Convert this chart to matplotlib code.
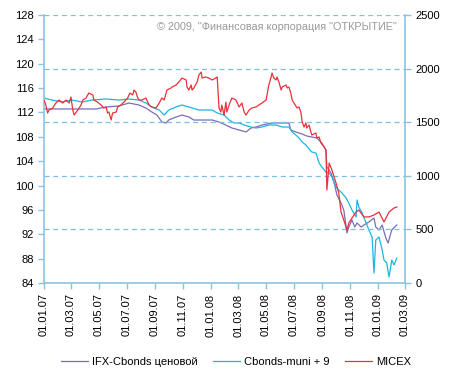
import pandas as pd
import matplotlib
matplotlib.use("Agg")
import matplotlib.pyplot as plt
import matplotlib.dates as mdates
import numpy as np

plt.rcParams['font.family'] = ['Liberation Sans', 'DejaVu Sans']

# days counted from 01.01.2007
start = pd.Timestamp("2007-01-01")

micex_days = [0, 4, 8, 11, 19, 26, 33, 41, 48, 55, 59, 63, 66, 74, 81, 85, 92, 98, 107, 109,
              117, 125, 131, 136, 139, 142, 147, 150, 158, 161, 168, 175, 183, 188, 194, 197,
              201, 205, 208, 214, 223, 230, 236, 245, 252, 258, 263, 269, 278, 280, 289, 295,
              302, 311, 313, 317, 322, 324, 328, 335, 339, 344, 346, 354, 361, 368, 376, 379,
              381, 383, 387, 389, 394, 398, 400, 405, 411, 420, 427, 433, 438, 442, 449, 455,
              464, 470, 477, 486, 488, 492, 497, 499, 503, 508, 510, 514, 519, 521, 530, 532,
              536, 540, 543, 547, 554, 558, 562, 565, 569, 573, 575, 580, 584, 586, 595, 597,
              602, 606, 613, 617, 619, 624, 630, 639, 645, 650, 656, 663, 667, 674, 683, 689,
              700, 711, 722, 733, 744, 755, 766, 772]
micex = [1707, 1660, 1586, 1614, 1632, 1679, 1707, 1679, 1707, 1679, 1735, 1614, 1567, 1614,
         1660, 1707, 1726, 1772, 1754, 1707, 1688, 1660, 1632, 1642, 1586, 1595, 1521, 1586,
         1595, 1642, 1660, 1688, 1726, 1772, 1754, 1800, 1782, 1726, 1707, 1707, 1726, 1660,
         1642, 1632, 1679, 1726, 1707, 1800, 1819, 1828, 1847, 1875, 1912, 1894, 1828, 1800,
         1847, 1800, 1819, 1875, 1940, 1968, 1912, 1922, 1912, 1894, 1912, 1922, 1782, 1632,
         1595, 1660, 1567, 1688, 1595, 1660, 1726, 1707, 1642, 1679, 1595, 1567, 1614, 1632,
         1642, 1660, 1679, 1707, 1754, 1847, 1922, 1959, 1912, 1894, 1922, 1875, 1800, 1828,
         1847, 1819, 1828, 1772, 1707, 1679, 1632, 1642, 1595, 1502, 1455, 1493, 1446, 1474,
         1409, 1381, 1399, 1353, 1362, 1306, 1269, 1241, 868, 1119, 1054, 933, 840, 662, 588,
         494, 560, 606, 662, 681, 616, 616, 634, 662, 569, 662, 700, 709]

muni_days = [0, 17, 39, 61, 83, 105, 136, 164, 186, 208, 223, 236, 252, 263, 273, 289, 302,
             317, 324, 339, 354, 368, 379, 394, 405, 416, 427, 438, 453, 464, 477, 492, 508,
             521, 536, 543, 551, 558, 565, 573, 580, 586, 595, 602, 608, 617, 624, 630, 639,
             645, 652, 661, 667, 674, 683, 685, 689, 696, 705, 711, 718, 722, 726, 733, 740,
             744, 750, 755, 761, 766, 772]
muni = [114.37, 114.04, 113.71, 114.04, 113.71, 114.04, 114.21, 114.04, 114.21, 114.04, 113.55,
        112.90, 112.40, 111.58, 112.40, 112.90, 113.22, 112.90, 112.73, 112.40, 112.40, 112.40,
        111.91, 111.58, 110.76, 110.27, 110.27, 109.94, 109.61, 109.45, 109.61, 109.94, 109.94,
        109.61, 109.61, 108.79, 108.30, 107.81, 107.15, 106.66, 106.00, 105.51, 105.34, 103.70,
        103.05, 102.22, 102.06, 101.40, 99.76, 99.27, 98.78, 97.96, 97.13, 95.98, 94.84, 97.63,
        96.48, 95.49, 93.85, 92.70, 91.55, 85.64, 91.06, 91.55, 89.42, 87.78, 87.28, 84.98,
        87.78, 86.96, 88.10]

ifx_days = [0, 61, 114, 136, 164, 186, 208, 223, 236, 247, 258, 267, 273, 289, 302, 317, 328,
            346, 368, 383, 398, 411, 427, 442, 453, 464, 477, 499, 521, 536, 540, 551, 565,
            575, 586, 597, 608, 617, 619, 628, 635, 641, 650, 656, 663, 667, 674, 680, 685,
            694, 700, 711, 722, 726, 733, 740, 748, 753, 759, 761, 772]
ifx = [112.57, 112.57, 112.57, 112.90, 113.06, 113.55, 113.22, 112.73, 112.07, 111.58, 110.43,
       110.27, 110.76, 111.25, 111.58, 111.25, 110.76, 110.76, 110.76, 110.43, 109.94, 109.45,
       109.12, 108.79, 109.45, 109.61, 109.94, 110.27, 110.27, 110.27, 109.12, 108.79, 108.46,
       108.13, 107.97, 107.81, 106.98, 105.84, 103.05, 102.06, 100.42, 98.45, 97.13, 95.98,
       92.21, 93.19, 94.34, 93.19, 93.85, 93.19, 93.52, 94.02, 94.67, 93.19, 92.70, 93.52,
       91.39, 90.57, 92.21, 92.70, 93.52]

labels = ["IFX-Cbonds ценовой", "Cbonds-muni + 9", "MICEX"]
copyright_text = '© 2009, "Финансовая корпорация "ОТКРЫТИЕ"'

to_dates = lambda d: start + pd.to_timedelta(d, unit="D")

axis_col = "#8CC4E0"
grid_col = "#7EC0E0"

fig = plt.figure(figsize=(4.56, 3.8), dpi=100)
ax = fig.add_axes([0.0965, 0.2553, 0.7917, 0.7052])
ax2 = ax.twinx()

l1, = ax.plot(to_dates(ifx_days), ifx, color="#7B6DB5", lw=0.9)
l2, = ax.plot(to_dates(muni_days), muni, color="#1BB6E0", lw=0.9)
l3, = ax2.plot(to_dates(micex_days), micex, color="#E8313A", lw=0.9)

ax.set_ylim(84, 128)
ax.set_yticks(np.arange(84, 129, 4))
ax2.set_ylim(0, 2500)
ax2.set_yticks(np.arange(0, 2501, 500))
ax.set_xlim(start, pd.Timestamp("2009-03-01"))

ax.xaxis.set_major_locator(mdates.MonthLocator(bymonth=[1, 3, 5, 7, 9, 11]))
ax.xaxis.set_major_formatter(mdates.DateFormatter("%d.%m.%y"))
for t in ax.get_xticklabels():
    t.set_rotation(90)

ax2.grid(axis="y", color=grid_col, linestyle=(0, (4, 3)), lw=0.9)
ax2.set_axisbelow(True)

for a in (ax, ax2):
    a.spines["top"].set_visible(False)
    for s in ("left", "right", "bottom"):
        a.spines[s].set_color(axis_col)
        a.spines[s].set_linewidth(1.2)
    a.tick_params(colors=axis_col, labelcolor="black", labelsize=8, length=4, width=1)
ax.spines["right"].set_visible(False)
ax2.spines["left"].set_visible(False)
ax2.spines["bottom"].set_visible(False)

ax.text(0.978, 0.955, copyright_text, transform=ax.transAxes, ha="right", va="center",
        fontsize=7.8, color="#999999")

fig.legend([l1, l2, l3], labels, loc="center", bbox_to_anchor=(0.518, 0.048), ncol=3,
           frameon=False, fontsize=8, handlelength=2.4, columnspacing=1.4, handletextpad=0.4)

fig.savefig("out.png", dpi=100, facecolor="white")
